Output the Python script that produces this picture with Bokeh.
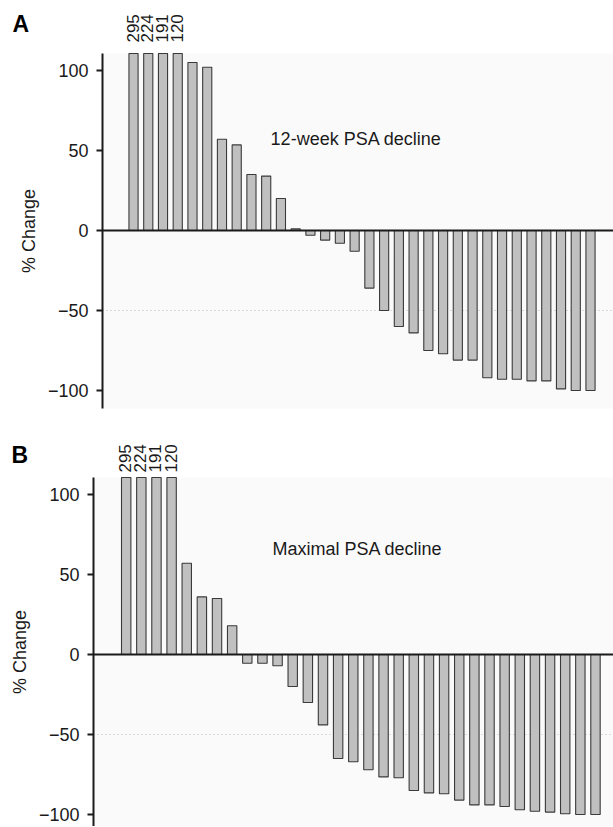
import math
from bokeh.plotting import figure
from bokeh.layouts import column
from bokeh.models import ColumnDataSource, LabelSet, Label, FixedTicker, Range1d
from bokeh.core.properties import value
from bokeh.embed import file_html
from bokeh.resources import INLINE

# ---------------- data ----------------
week12_change = [295, 224, 191, 120, 105, 102, 57, 53.5, 35, 34, 20, 1,
                 -3, -6, -8, -13, -36, -50, -60, -64, -75, -77, -81, -81,
                 -92, -93, -93, -94, -94, -99, -100, -100]
maximal_change = [295, 224, 191, 120, 57, 36, 35, 18,
                  -5.5, -5.5, -7, -20, -30, -44, -65, -67, -72, -76.5, -77,
                  -85, -86.5, -87, -91, -94, -94, -95, -97, -98, -98.5,
                  -99.5, -100, -100]
y_ticks = [-100, -50, 0, 50, 100]
y_tick_labels = ["\u2212100", "\u221250", "0", "50", "100"]
panel_titles = ["12-week PSA decline", "Maximal PSA decline"]
panel_letters = ["A", "B"]

FONT = "Liberation Sans"
INK = "#1a1a1a"


def make_panel(values, title, letter, height, x_range, y_range, axis_x,
               plot_bottom, plot_top, lab_offset, title_xy, letter_xy):
    p = figure(width=613, height=height, output_backend="svg", toolbar_location=None,
               x_axis_type=None, x_range=Range1d(*x_range), y_range=Range1d(*y_range))
    p.min_border = 0
    p.outline_line_color = None
    p.background_fill_color = "white"
    p.border_fill_color = "white"
    p.grid.visible = False

    # plot-area background
    p.quad(left=[axis_x], right=[x_range[1]], bottom=[plot_bottom], top=[plot_top],
           fill_color="#fafafa", line_color=None, level="underlay")

    # reference line at -50 (dotted)
    p.segment(x0=[axis_x], x1=[x_range[1]], y0=[-50], y1=[-50], line_color="#b8b8b8",
              line_width=1, line_dash="1 3")

    idx = list(range(len(values)))
    shown = [min(v, plot_top) for v in values]
    src = ColumnDataSource(dict(x=idx, top=shown))
    p.vbar(x="x", top="top", bottom=0, width=0.62, source=src,
           fill_color="#c0c0c0", line_color="#3a3a3a", line_width=1.1)

    # zero line
    p.segment(x0=[axis_x], x1=[x_range[1]], y0=[0], y1=[0], line_color=INK, line_width=2)

    ax = p.yaxis[0]
    ax.fixed_location = axis_x
    ax.bounds = (plot_bottom, plot_top)
    ax.ticker = FixedTicker(ticks=y_ticks)
    ax.major_label_overrides = {t: s for t, s in zip(y_ticks, y_tick_labels)}
    ax.axis_line_width = 2
    ax.axis_line_color = INK
    ax.major_tick_line_width = 2
    ax.major_tick_line_color = INK
    ax.major_tick_out = 6
    ax.major_tick_in = 0
    ax.minor_tick_line_color = None
    ax.major_label_text_font = FONT
    ax.major_label_text_font_size = "18px"
    ax.major_label_text_color = INK
    ax.major_label_standoff = 8
    ax.axis_label = "% Change"
    ax.axis_label_text_font = FONT
    ax.axis_label_text_font_size = "18px"
    ax.axis_label_text_font_style = "normal"
    ax.axis_label_text_color = INK
    ax.axis_label_standoff = 6

    # truncated bars: their values written above the plot area
    tx = [i for i, v in zip(idx, values) if v > plot_top]
    tt = [str(int(v)) for v in values if v > plot_top]
    lsrc = ColumnDataSource(dict(x=tx, y=[plot_top] * len(tx), text=tt))
    p.add_layout(LabelSet(x="x", y="y", text="text", source=lsrc, angle=math.pi / 2,
                          text_align="left", text_baseline="middle",
                          y_offset=lab_offset, x_offset=-1,
                          text_font=value(FONT), text_font_size=value("17px"),
                          text_color=INK))

    p.add_layout(Label(x=title_xy[0], y=title_xy[1], text=title, text_font=FONT,
                       text_font_size="18px", text_color=INK,
                       text_align="left", text_baseline="middle"))
    p.add_layout(Label(x=letter_xy[0], y=letter_xy[1], text=letter, text_font=FONT,
                       text_font_size="23px", text_font_style="bold", text_color="black",
                       text_align="left", text_baseline="top"))
    return p


pA = make_panel(week12_change, panel_titles[0], panel_letters[0], height=418,
                x_range=(-9.023, 32.56), y_range=(-117.5, 143.75), axis_x=-2.103,
                plot_bottom=-111.25, plot_top=110.6, lab_offset=11,
                title_xy=(9.3, 57.5), letter_xy=(-8.21, 137.0))
pB = make_panel(maximal_change, panel_titles[1], panel_letters[1], height=408,
                x_range=(-8.303, 32.19), y_range=(-107.5, 147.5), axis_x=-2.16,
                plot_bottom=-107.5, plot_top=110.6, lab_offset=5,
                title_xy=(9.66, 66.0), letter_xy=(-7.58, 133.1))

layout = column(pA, pB, spacing=0)
open("out.html", "w").write(file_html(layout, INLINE))
